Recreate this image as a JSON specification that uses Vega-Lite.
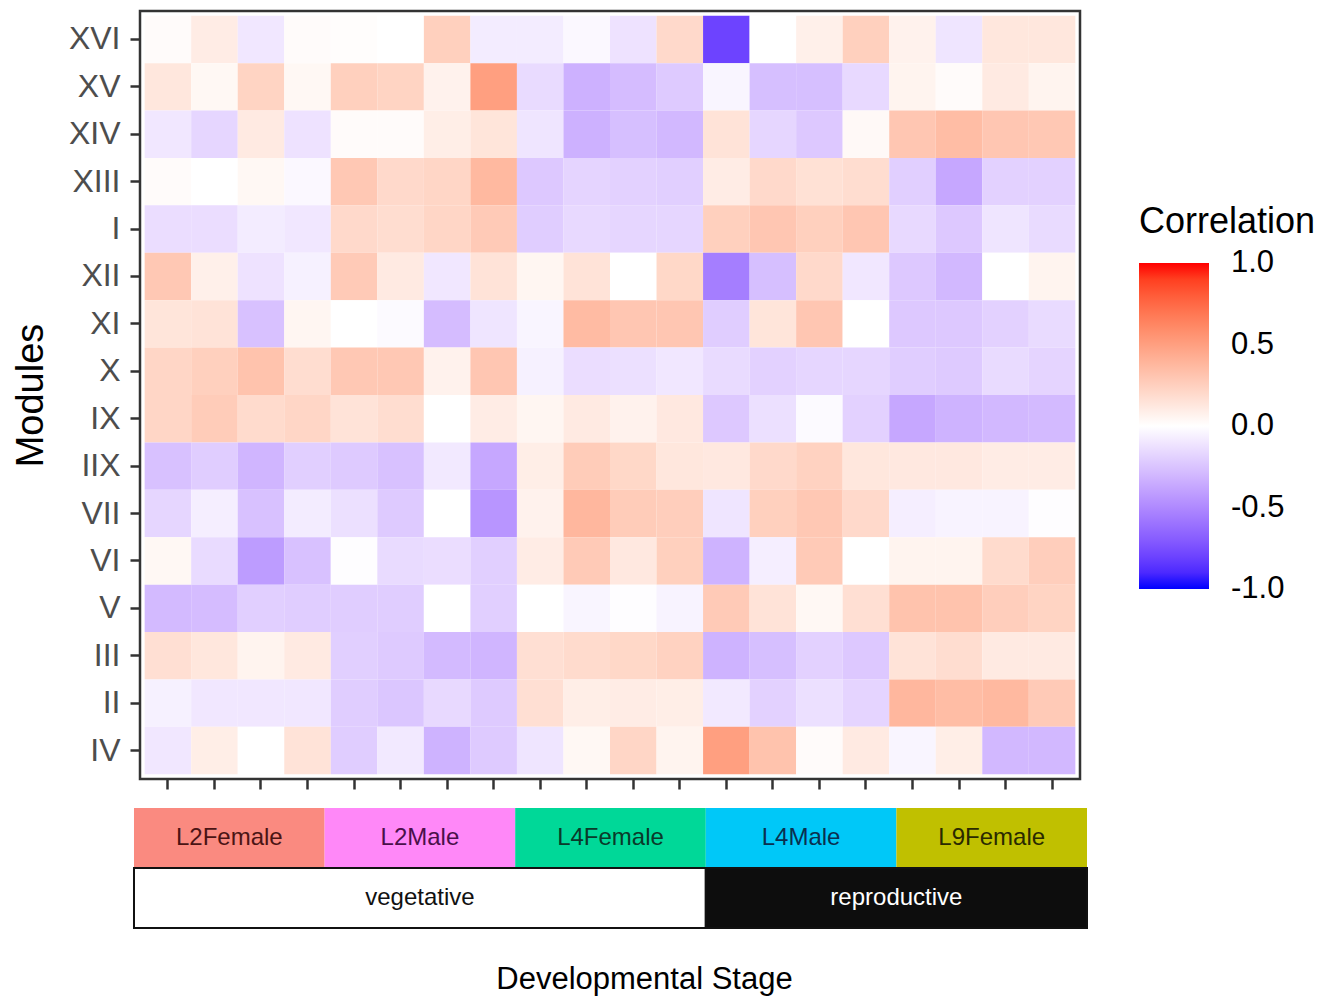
{
  "$schema": "https://vega.github.io/schema/vega-lite/v6.json",
  "background": "white",
  "padding": {"left": 11, "top": 9, "right": 5, "bottom": 5},
  "config": {"font": "Liberation Sans", "view": {"stroke": null}},
  "spacing": 16,
  "datasets": {
    "cells": [
      {"m":"XVI","s":"L2F1","r":0.02},{"m":"XVI","s":"L2F2","r":0.1},{"m":"XVI","s":"L2F3","r":-0.1},{"m":"XVI","s":"L2F4","r":0.02},{"m":"XVI","s":"L2M1","r":0.01},{"m":"XVI","s":"L2M2","r":0},{"m":"XVI","s":"L2M3","r":0.25},{"m":"XVI","s":"L2M4","r":-0.08},{"m":"XVI","s":"L4F1","r":-0.08},{"m":"XVI","s":"L4F2","r":-0.03},{"m":"XVI","s":"L4F3","r":-0.12},{"m":"XVI","s":"L4F4","r":0.2},{"m":"XVI","s":"L4M1","r":-0.8},{"m":"XVI","s":"L4M2","r":0},{"m":"XVI","s":"L4M3","r":0.08},{"m":"XVI","s":"L4M4","r":0.25},{"m":"XVI","s":"L9F1","r":0.07},{"m":"XVI","s":"L9F2","r":-0.11},{"m":"XVI","s":"L9F3","r":0.13},{"m":"XVI","s":"L9F4","r":0.13},
      {"m":"XV","s":"L2F1","r":0.13},{"m":"XV","s":"L2F2","r":0.04},{"m":"XV","s":"L2F3","r":0.23},{"m":"XV","s":"L2F4","r":0.04},{"m":"XV","s":"L2M1","r":0.25},{"m":"XV","s":"L2M2","r":0.23},{"m":"XV","s":"L2M3","r":0.07},{"m":"XV","s":"L2M4","r":0.5},{"m":"XV","s":"L4F1","r":-0.15},{"m":"XV","s":"L4F2","r":-0.33},{"m":"XV","s":"L4F3","r":-0.28},{"m":"XV","s":"L4F4","r":-0.22},{"m":"XV","s":"L4M1","r":-0.04},{"m":"XV","s":"L4M2","r":-0.27},{"m":"XV","s":"L4M3","r":-0.27},{"m":"XV","s":"L4M4","r":-0.16},{"m":"XV","s":"L9F1","r":0.06},{"m":"XV","s":"L9F2","r":0.02},{"m":"XV","s":"L9F3","r":0.11},{"m":"XV","s":"L9F4","r":0.06},
      {"m":"XIV","s":"L2F1","r":-0.1},{"m":"XIV","s":"L2F2","r":-0.17},{"m":"XIV","s":"L2F3","r":0.11},{"m":"XIV","s":"L2F4","r":-0.12},{"m":"XIV","s":"L2M1","r":0.02},{"m":"XIV","s":"L2M2","r":0.02},{"m":"XIV","s":"L2M3","r":0.09},{"m":"XIV","s":"L2M4","r":0.14},{"m":"XIV","s":"L4F1","r":-0.11},{"m":"XIV","s":"L4F2","r":-0.33},{"m":"XIV","s":"L4F3","r":-0.27},{"m":"XIV","s":"L4F4","r":-0.3},{"m":"XIV","s":"L4M1","r":0.15},{"m":"XIV","s":"L4M2","r":-0.17},{"m":"XIV","s":"L4M3","r":-0.23},{"m":"XIV","s":"L4M4","r":0.03},{"m":"XIV","s":"L9F1","r":0.3},{"m":"XIV","s":"L9F2","r":0.35},{"m":"XIV","s":"L9F3","r":0.3},{"m":"XIV","s":"L9F4","r":0.29},
      {"m":"XIII","s":"L2F1","r":0.02},{"m":"XIII","s":"L2F2","r":0},{"m":"XIII","s":"L2F3","r":0.04},{"m":"XIII","s":"L2F4","r":-0.03},{"m":"XIII","s":"L2M1","r":0.29},{"m":"XIII","s":"L2M2","r":0.2},{"m":"XIII","s":"L2M3","r":0.22},{"m":"XIII","s":"L2M4","r":0.37},{"m":"XIII","s":"L4F1","r":-0.23},{"m":"XIII","s":"L4F2","r":-0.18},{"m":"XIII","s":"L4F3","r":-0.19},{"m":"XIII","s":"L4F4","r":-0.2},{"m":"XIII","s":"L4M1","r":0.1},{"m":"XIII","s":"L4M2","r":0.2},{"m":"XIII","s":"L4M3","r":0.16},{"m":"XIII","s":"L4M4","r":0.18},{"m":"XIII","s":"L9F1","r":-0.2},{"m":"XIII","s":"L9F2","r":-0.37},{"m":"XIII","s":"L9F3","r":-0.19},{"m":"XIII","s":"L9F4","r":-0.19},
      {"m":"I","s":"L2F1","r":-0.14},{"m":"I","s":"L2F2","r":-0.14},{"m":"I","s":"L2F3","r":-0.08},{"m":"I","s":"L2F4","r":-0.1},{"m":"I","s":"L2M1","r":0.2},{"m":"I","s":"L2M2","r":0.18},{"m":"I","s":"L2M3","r":0.22},{"m":"I","s":"L2M4","r":0.28},{"m":"I","s":"L4F1","r":-0.21},{"m":"I","s":"L4F2","r":-0.16},{"m":"I","s":"L4F3","r":-0.17},{"m":"I","s":"L4F4","r":-0.17},{"m":"I","s":"L4M1","r":0.25},{"m":"I","s":"L4M2","r":0.3},{"m":"I","s":"L4M3","r":0.25},{"m":"I","s":"L4M4","r":0.3},{"m":"I","s":"L9F1","r":-0.16},{"m":"I","s":"L9F2","r":-0.23},{"m":"I","s":"L9F3","r":-0.11},{"m":"I","s":"L9F4","r":-0.15},
      {"m":"XII","s":"L2F1","r":0.29},{"m":"XII","s":"L2F2","r":0.08},{"m":"XII","s":"L2F3","r":-0.12},{"m":"XII","s":"L2F4","r":-0.06},{"m":"XII","s":"L2M1","r":0.28},{"m":"XII","s":"L2M2","r":0.11},{"m":"XII","s":"L2M3","r":-0.1},{"m":"XII","s":"L2M4","r":0.15},{"m":"XII","s":"L4F1","r":0.05},{"m":"XII","s":"L4F2","r":0.15},{"m":"XII","s":"L4F3","r":0},{"m":"XII","s":"L4F4","r":0.21},{"m":"XII","s":"L4M1","r":-0.55},{"m":"XII","s":"L4M2","r":-0.27},{"m":"XII","s":"L4M3","r":0.2},{"m":"XII","s":"L4M4","r":-0.1},{"m":"XII","s":"L9F1","r":-0.23},{"m":"XII","s":"L9F2","r":-0.3},{"m":"XII","s":"L9F3","r":0},{"m":"XII","s":"L9F4","r":0.06},
      {"m":"XI","s":"L2F1","r":0.14},{"m":"XI","s":"L2F2","r":0.15},{"m":"XI","s":"L2F3","r":-0.26},{"m":"XI","s":"L2F4","r":0.05},{"m":"XI","s":"L2M1","r":0},{"m":"XI","s":"L2M2","r":-0.02},{"m":"XI","s":"L2M3","r":-0.28},{"m":"XI","s":"L2M4","r":-0.11},{"m":"XI","s":"L4F1","r":-0.04},{"m":"XI","s":"L4F2","r":0.36},{"m":"XI","s":"L4F3","r":0.3},{"m":"XI","s":"L4F4","r":0.3},{"m":"XI","s":"L4M1","r":-0.21},{"m":"XI","s":"L4M2","r":0.14},{"m":"XI","s":"L4M3","r":0.3},{"m":"XI","s":"L4M4","r":0},{"m":"XI","s":"L9F1","r":-0.23},{"m":"XI","s":"L9F2","r":-0.23},{"m":"XI","s":"L9F3","r":-0.19},{"m":"XI","s":"L9F4","r":-0.15},
      {"m":"X","s":"L2F1","r":0.22},{"m":"X","s":"L2F2","r":0.25},{"m":"X","s":"L2F3","r":0.32},{"m":"X","s":"L2F4","r":0.18},{"m":"X","s":"L2M1","r":0.29},{"m":"X","s":"L2M2","r":0.29},{"m":"X","s":"L2M3","r":0.07},{"m":"X","s":"L2M4","r":0.3},{"m":"X","s":"L4F1","r":-0.06},{"m":"X","s":"L4F2","r":-0.14},{"m":"X","s":"L4F3","r":-0.13},{"m":"X","s":"L4F4","r":-0.1},{"m":"X","s":"L4M1","r":-0.15},{"m":"X","s":"L4M2","r":-0.19},{"m":"X","s":"L4M3","r":-0.17},{"m":"X","s":"L4M4","r":-0.17},{"m":"X","s":"L9F1","r":-0.21},{"m":"X","s":"L9F2","r":-0.22},{"m":"X","s":"L9F3","r":-0.15},{"m":"X","s":"L9F4","r":-0.18},
      {"m":"IX","s":"L2F1","r":0.22},{"m":"IX","s":"L2F2","r":0.27},{"m":"IX","s":"L2F3","r":0.19},{"m":"IX","s":"L2F4","r":0.22},{"m":"IX","s":"L2M1","r":0.15},{"m":"IX","s":"L2M2","r":0.18},{"m":"IX","s":"L2M3","r":0},{"m":"IX","s":"L2M4","r":0.1},{"m":"IX","s":"L4F1","r":0.05},{"m":"IX","s":"L4F2","r":0.11},{"m":"IX","s":"L4F3","r":0.07},{"m":"IX","s":"L4F4","r":0.12},{"m":"IX","s":"L4M1","r":-0.23},{"m":"IX","s":"L4M2","r":-0.13},{"m":"IX","s":"L4M3","r":-0.02},{"m":"IX","s":"L4M4","r":-0.19},{"m":"IX","s":"L9F1","r":-0.37},{"m":"IX","s":"L9F2","r":-0.32},{"m":"IX","s":"L9F3","r":-0.3},{"m":"IX","s":"L9F4","r":-0.29},
      {"m":"IIX","s":"L2F1","r":-0.26},{"m":"IIX","s":"L2F2","r":-0.21},{"m":"IIX","s":"L2F3","r":-0.31},{"m":"IIX","s":"L2F4","r":-0.2},{"m":"IIX","s":"L2M1","r":-0.22},{"m":"IIX","s":"L2M2","r":-0.26},{"m":"IIX","s":"L2M3","r":-0.09},{"m":"IIX","s":"L2M4","r":-0.37},{"m":"IIX","s":"L4F1","r":0.09},{"m":"IIX","s":"L4F2","r":0.27},{"m":"IIX","s":"L4F3","r":0.21},{"m":"IIX","s":"L4F4","r":0.13},{"m":"IIX","s":"L4M1","r":0.12},{"m":"IIX","s":"L4M2","r":0.2},{"m":"IIX","s":"L4M3","r":0.24},{"m":"IIX","s":"L4M4","r":0.13},{"m":"IIX","s":"L9F1","r":0.12},{"m":"IIX","s":"L9F2","r":0.12},{"m":"IIX","s":"L9F3","r":0.1},{"m":"IIX","s":"L9F4","r":0.1},
      {"m":"VII","s":"L2F1","r":-0.17},{"m":"VII","s":"L2F2","r":-0.07},{"m":"VII","s":"L2F3","r":-0.26},{"m":"VII","s":"L2F4","r":-0.08},{"m":"VII","s":"L2M1","r":-0.13},{"m":"VII","s":"L2M2","r":-0.22},{"m":"VII","s":"L2M3","r":0},{"m":"VII","s":"L2M4","r":-0.45},{"m":"VII","s":"L4F1","r":0.07},{"m":"VII","s":"L4F2","r":0.38},{"m":"VII","s":"L4F3","r":0.27},{"m":"VII","s":"L4F4","r":0.26},{"m":"VII","s":"L4M1","r":-0.11},{"m":"VII","s":"L4M2","r":0.25},{"m":"VII","s":"L4M3","r":0.29},{"m":"VII","s":"L4M4","r":0.2},{"m":"VII","s":"L9F1","r":-0.07},{"m":"VII","s":"L9F2","r":-0.05},{"m":"VII","s":"L9F3","r":-0.05},{"m":"VII","s":"L9F4","r":-0.01},
      {"m":"VI","s":"L2F1","r":0.04},{"m":"VI","s":"L2F2","r":-0.15},{"m":"VI","s":"L2F3","r":-0.42},{"m":"VI","s":"L2F4","r":-0.26},{"m":"VI","s":"L2M1","r":-0.01},{"m":"VI","s":"L2M2","r":-0.15},{"m":"VI","s":"L2M3","r":-0.14},{"m":"VI","s":"L2M4","r":-0.2},{"m":"VI","s":"L4F1","r":0.1},{"m":"VI","s":"L4F2","r":0.28},{"m":"VI","s":"L4F3","r":0.12},{"m":"VI","s":"L4F4","r":0.25},{"m":"VI","s":"L4M1","r":-0.32},{"m":"VI","s":"L4M2","r":-0.07},{"m":"VI","s":"L4M3","r":0.28},{"m":"VI","s":"L4M4","r":0},{"m":"VI","s":"L9F1","r":0.06},{"m":"VI","s":"L9F2","r":0.06},{"m":"VI","s":"L9F3","r":0.19},{"m":"VI","s":"L9F4","r":0.26},
      {"m":"V","s":"L2F1","r":-0.29},{"m":"V","s":"L2F2","r":-0.28},{"m":"V","s":"L2F3","r":-0.2},{"m":"V","s":"L2F4","r":-0.21},{"m":"V","s":"L2M1","r":-0.21},{"m":"V","s":"L2M2","r":-0.21},{"m":"V","s":"L2M3","r":0},{"m":"V","s":"L2M4","r":-0.2},{"m":"V","s":"L4F1","r":0},{"m":"V","s":"L4F2","r":-0.04},{"m":"V","s":"L4F3","r":-0.01},{"m":"V","s":"L4F4","r":-0.05},{"m":"V","s":"L4M1","r":0.28},{"m":"V","s":"L4M2","r":0.15},{"m":"V","s":"L4M3","r":0.04},{"m":"V","s":"L4M4","r":0.17},{"m":"V","s":"L9F1","r":0.32},{"m":"V","s":"L9F2","r":0.32},{"m":"V","s":"L9F3","r":0.26},{"m":"V","s":"L9F4","r":0.23},
      {"m":"III","s":"L2F1","r":0.17},{"m":"III","s":"L2F2","r":0.13},{"m":"III","s":"L2F3","r":0.06},{"m":"III","s":"L2F4","r":0.11},{"m":"III","s":"L2M1","r":-0.2},{"m":"III","s":"L2M2","r":-0.22},{"m":"III","s":"L2M3","r":-0.29},{"m":"III","s":"L2M4","r":-0.31},{"m":"III","s":"L4F1","r":0.17},{"m":"III","s":"L4F2","r":0.19},{"m":"III","s":"L4F3","r":0.21},{"m":"III","s":"L4F4","r":0.24},{"m":"III","s":"L4M1","r":-0.32},{"m":"III","s":"L4M2","r":-0.27},{"m":"III","s":"L4M3","r":-0.19},{"m":"III","s":"L4M4","r":-0.23},{"m":"III","s":"L9F1","r":0.15},{"m":"III","s":"L9F2","r":0.18},{"m":"III","s":"L9F3","r":0.11},{"m":"III","s":"L9F4","r":0.11},
      {"m":"II","s":"L2F1","r":-0.06},{"m":"II","s":"L2F2","r":-0.1},{"m":"II","s":"L2F3","r":-0.1},{"m":"II","s":"L2F4","r":-0.1},{"m":"II","s":"L2M1","r":-0.21},{"m":"II","s":"L2M2","r":-0.24},{"m":"II","s":"L2M3","r":-0.16},{"m":"II","s":"L2M4","r":-0.22},{"m":"II","s":"L4F1","r":0.17},{"m":"II","s":"L4F2","r":0.09},{"m":"II","s":"L4F3","r":0.1},{"m":"II","s":"L4F4","r":0.09},{"m":"II","s":"L4M1","r":-0.09},{"m":"II","s":"L4M2","r":-0.19},{"m":"II","s":"L4M3","r":-0.13},{"m":"II","s":"L4M4","r":-0.18},{"m":"II","s":"L9F1","r":0.38},{"m":"II","s":"L9F2","r":0.35},{"m":"II","s":"L9F3","r":0.37},{"m":"II","s":"L9F4","r":0.28},
      {"m":"IV","s":"L2F1","r":-0.1},{"m":"IV","s":"L2F2","r":0.09},{"m":"IV","s":"L2F3","r":0},{"m":"IV","s":"L2F4","r":0.15},{"m":"IV","s":"L2M1","r":-0.21},{"m":"IV","s":"L2M2","r":-0.09},{"m":"IV","s":"L2M3","r":-0.32},{"m":"IV","s":"L2M4","r":-0.22},{"m":"IV","s":"L4F1","r":-0.11},{"m":"IV","s":"L4F2","r":0.04},{"m":"IV","s":"L4F3","r":0.22},{"m":"IV","s":"L4F4","r":0.06},{"m":"IV","s":"L4M1","r":0.5},{"m":"IV","s":"L4M2","r":0.32},{"m":"IV","s":"L4M3","r":0.02},{"m":"IV","s":"L4M4","r":0.11},{"m":"IV","s":"L9F1","r":-0.04},{"m":"IV","s":"L9F2","r":0.09},{"m":"IV","s":"L9F3","r":-0.3},{"m":"IV","s":"L9F4","r":-0.3}
    ],
    "annot": [
      {"label":"L2Female","row":"group","start":0,"end":4},
      {"label":"L2Male","row":"group","start":4,"end":8},
      {"label":"L4Female","row":"group","start":8,"end":12},
      {"label":"L4Male","row":"group","start":12,"end":16},
      {"label":"L9Female","row":"group","start":16,"end":20},
      {"label":"vegetative","row":"stage","start":0,"end":12},
      {"label":"reproductive","row":"stage","start":12,"end":20}
    ]
  },
  "vconcat": [
    {
      "width": 940,
      "height": 768,
      "view": {"stroke": "#333333", "strokeWidth": 2.5},
      "data": {"name": "cells"},
      "mark": {"type": "rect"},
      "encoding": {
        "x": {
          "field": "s", "type": "nominal", "sort": null,
          "scale": {"paddingInner": 0, "paddingOuter": 0.1},
          "axis": {"title": null, "labels": false, "ticks": true, "tickSize": 10, "tickWidth": 2.5, "tickColor": "#333333", "domain": false, "grid": false}
        },
        "y": {
          "field": "m", "type": "nominal",
          "sort": ["XVI","XV","XIV","XIII","I","XII","XI","X","IX","IIX","VII","VI","V","III","II","IV"],
          "scale": {"paddingInner": 0, "paddingOuter": 0.1},
          "axis": {"title": "Modules", "titleFontSize": 38, "titleFontWeight": "normal", "titleColor": "black", "titlePadding": 18, "labelFontSize": 32, "labelColor": "#4d4d4d", "labelPadding": 10, "tickSize": 10, "tickWidth": 2.5, "tickColor": "#333333", "domain": false, "grid": false}
        },
        "color": {
          "field": "r", "type": "quantitative",
          "scale": {"domain": [-1, 0, 1], "range": ["#0000ff", "#ffffff", "#ff0000"], "interpolate": "lab"},
          "legend": {
            "title": "Correlation", "orient": "none", "legendX": 999, "legendY": 194,
            "titleFontSize": 36, "titleFontWeight": "normal", "titleColor": "black", "titlePadding": 22,
            "labelFontSize": 31, "labelColor": "black", "labelOffset": 22,
            "gradientLength": 326, "gradientThickness": 70, "gradientStrokeWidth": 0,
            "values": [-1, -0.5, 0, 0.5, 1],
            "labelExpr": "datum.value < 0 ? '-' + format(-datum.value, '.1f') : format(datum.value, '.1f')",
            "encode": {"labels": {"update": {"baseline": {"value": "middle"}}}}
          }
        }
      }
    },
    {
      "width": 947,
      "height": 120,
      "data": {"name": "annot"},
      "transform": [{"calculate": "(datum.start + datum.end) / 2", "as": "mid"}],
      "layer": [
        {
          "mark": {"type": "rect", "strokeWidth": 2},
          "encoding": {
            "x": {"field": "start", "type": "quantitative", "scale": {"domain": [0.126, 20], "nice": false, "zero": false},
                  "axis": {"title": "Developmental Stage", "labels": false, "ticks": false, "domain": false, "grid": false,
                           "titleFont": "Liberation Sans", "titleFontSize": 31, "titleFontWeight": "normal", "titleColor": "black", "titlePadding": 36, "titleX": 504}},
            "x2": {"field": "end"},
            "y": {"field": "row", "type": "nominal", "scale": {"domain": ["group", "stage"], "paddingInner": 0, "paddingOuter": 0}, "axis": null},
            "fill": {"field": "label", "type": "nominal", "legend": null,
                     "scale": {"domain": ["L2Female","L2Male","L4Female","L4Male","L9Female","vegetative","reproductive"],
                               "range": ["#FA8A80","#FF88F8","#00D898","#00C8F8","#C0C000","#FFFFFF","#0D0D0D"]}},
            "stroke": {"condition": {"test": "datum.row === 'stage'", "value": "#111111"}, "value": null}
          }
        },
        {
          "mark": {"type": "text", "font": "Liberation Sans", "fontSize": 24, "baseline": "middle", "align": "center"},
          "encoding": {
            "x": {"field": "mid", "type": "quantitative"},
            "y": {"field": "row", "type": "nominal"},
            "text": {"field": "label"},
            "color": {"field": "label", "type": "nominal", "legend": null,
                      "scale": {"domain": ["L2Female","L2Male","L4Female","L4Male","L9Female","vegetative","reproductive"],
                                "range": ["#4A1414","#4A104A","#0A3A2A","#0A3050","#2A2A00","#111111","#FFFFFF"]}}
          }
        }
      ]
    }
  ]
}
